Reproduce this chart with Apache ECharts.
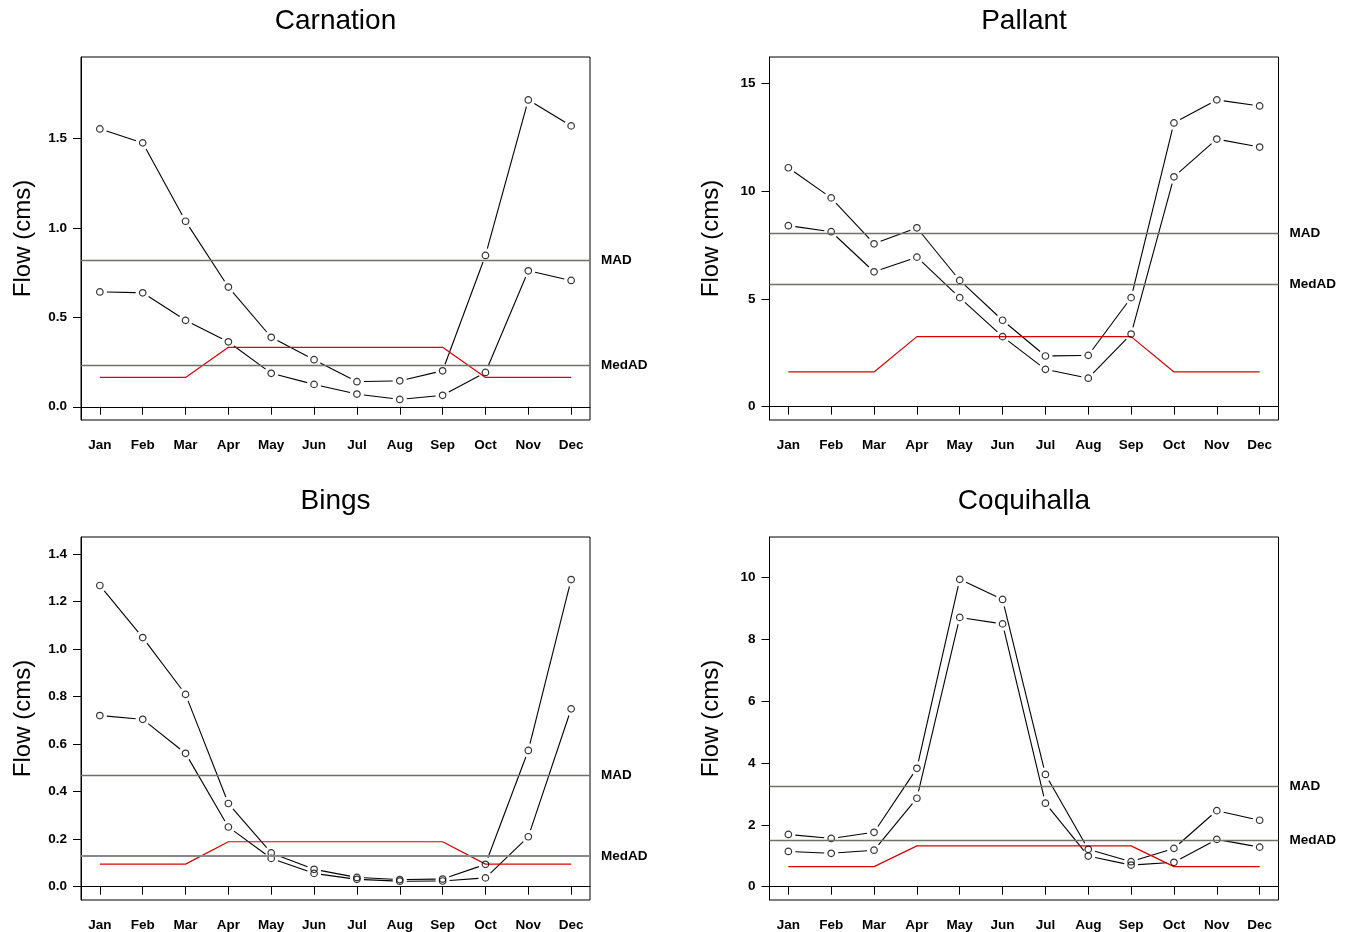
<!DOCTYPE html>
<html><head><meta charset="utf-8">
<script src="https://cdn.jsdelivr.net/npm/echarts@6/dist/echarts.min.js"></script>
<style>html,body{margin:0;padding:0;background:#fff}#c{width:1354px;height:932px}</style>
</head><body><div id="c"></div>
<script>
// ---------- data ----------
const months = ['Jan','Feb','Mar','Apr','May','Jun','Jul','Aug','Sep','Oct','Nov','Dec'];
const stations = ['Carnation','Pallant','Bings','Coquihalla'];
const yAxisTitle = 'Flow (cms)';
const refLabels = ['MAD','MedAD'];

const carnationUpper = [1.553,1.475,1.037,0.669,0.388,0.263,0.140,0.145,0.201,0.846,1.715,1.570];
const carnationLower = [0.642,0.637,0.483,0.363,0.187,0.125,0.071,0.041,0.064,0.192,0.760,0.706];
const carnationThreshold = [0.164,0.164,0.164,0.332,0.332,0.332,0.332,0.332,0.332,0.164,0.164,0.164];
const carnationMAD = 0.825, carnationMedAD = 0.233;
const carnationTicks = [0,0.5,1.0,1.5];
const carnationTickLabels = ['0.0','0.5','1.0','1.5'];

const pallantUpper = [11.09,9.69,7.56,8.30,5.86,4.01,2.35,2.38,5.06,13.17,14.24,13.96];
const pallantLower = [8.40,8.12,6.26,6.94,5.06,3.25,1.73,1.32,3.37,10.67,12.42,12.05];
const pallantThreshold = [1.61,1.61,1.61,3.25,3.25,3.25,3.25,3.25,3.25,1.61,1.61,1.61];
const pallantMAD = 8.07, pallantMedAD = 5.68;
const pallantTicks = [0,5,10,15];
const pallantTickLabels = ['0','5','10','15'];

const bingsUpper = [1.267,1.048,0.809,0.350,0.142,0.073,0.039,0.030,0.032,0.094,0.573,1.292];
const bingsLower = [0.720,0.704,0.561,0.251,0.119,0.056,0.031,0.023,0.024,0.037,0.210,0.748];
const bingsThreshold = [0.095,0.095,0.095,0.189,0.189,0.189,0.189,0.189,0.189,0.095,0.095,0.095];
const bingsMAD = 0.472, bingsMedAD = 0.126;
const bingsTicks = [0,0.2,0.4,0.6,0.8,1.0,1.2,1.4];
const bingsTickLabels = ['0.0','0.2','0.4','0.6','0.8','1.0','1.2','1.4'];

const coquihallaUpper = [1.69,1.56,1.76,3.83,9.94,9.29,3.63,1.21,0.81,1.24,2.46,2.15];
const coquihallaLower = [1.14,1.08,1.18,2.86,8.71,8.50,2.70,0.99,0.70,0.79,1.53,1.28];
const coquihallaThreshold = [0.65,0.65,0.65,1.32,1.32,1.32,1.32,1.32,1.32,0.65,0.65,0.65];
const coquihallaMAD = 3.26, coquihallaMedAD = 1.49;
const coquihallaTicks = [0,2,4,6,8,10];
const coquihallaTickLabels = ['0','2','4','6','8','10'];

// ---------- layout ----------
const FONT = "'Liberation Sans', Arial, Helvetica, sans-serif";
const panels = [
  {title: stations[0], upper: carnationUpper, lower: carnationLower, thr: carnationThreshold, mad: carnationMAD, medad: carnationMedAD, ticks: carnationTicks, tickLabels: carnationTickLabels, ymin: -0.074, ymax: 1.955, left: 81, top: 57},
  {title: stations[1], upper: pallantUpper, lower: pallantLower, thr: pallantThreshold, mad: pallantMAD, medad: pallantMedAD, ticks: pallantTicks, tickLabels: pallantTickLabels, ymin: -0.62, ymax: 16.23, left: 769.5, top: 57},
  {title: stations[2], upper: bingsUpper, lower: bingsLower, thr: bingsThreshold, mad: bingsMAD, medad: bingsMedAD, ticks: bingsTicks, tickLabels: bingsTickLabels, ymin: -0.056, ymax: 1.471, left: 81, top: 537, medadWidth: 2},
  {title: stations[3], upper: coquihallaUpper, lower: coquihallaLower, thr: coquihallaThreshold, mad: coquihallaMAD, medad: coquihallaMedAD, ticks: coquihallaTicks, tickLabels: coquihallaTickLabels, ymin: -0.43, ymax: 11.31, left: 769.5, top: 537}
];
const W = 509, H = 363;
const monthPos = months.map((m, i) => i + 1);

const grids = [], xAxes = [], yAxes = [], series = [], graphics = [];

function segRender(params, api) {
  const p1 = api.coord([api.value(0), api.value(1)]);
  const p2 = api.coord([api.value(2), api.value(3)]);
  const dx = p2[0] - p1[0], dy = p2[1] - p1[1];
  const len = Math.sqrt(dx * dx + dy * dy);
  const gap = 7;
  if (len <= 2 * gap + 1) return null;
  const ux = dx / len, uy = dy / len;
  return {
    type: 'line',
    shape: {x1: p1[0] + ux * gap, y1: p1[1] + uy * gap, x2: p2[0] - ux * gap, y2: p2[1] - uy * gap},
    style: {stroke: '#000', lineWidth: 1.1}
  };
}

const tickFont = {color: '#000', fontSize: 13.5, fontWeight: 'bold', fontFamily: FONT};

panels.forEach((p, k) => {
  grids.push({left: p.left, top: p.top, width: W, height: H, show: true, borderColor: '#000', borderWidth: 1, backgroundColor: 'transparent'});
  xAxes.push({
    type: 'value', gridIndex: k, min: 0.56, max: 12.44,
    axisLine: {show: true, lineStyle: {color: '#000', width: 1}},
    axisTick: {show: true, length: 8, lineStyle: {color: '#000', width: 1}, customValues: monthPos},
    axisLabel: Object.assign({show: true, customValues: monthPos, formatter: v => months[Math.round(v) - 1] || '', margin: 18}, tickFont),
    splitLine: {show: false}
  });
  const labelMap = {};
  p.ticks.forEach((t, i) => labelMap[t.toFixed(4)] = p.tickLabels[i]);
  yAxes.push({
    type: 'value', gridIndex: k, min: p.ymin, max: p.ymax,
    axisLine: {show: true, lineStyle: {color: '#000', width: 1}},
    axisTick: {show: true, length: 8, lineStyle: {color: '#000', width: 1}, customValues: p.ticks},
    axisLabel: Object.assign({show: true, customValues: p.ticks, formatter: v => labelMap[Number(v).toFixed(4)] ?? '', margin: 14, padding: [3, 0, 0, 0]}, tickFont),
    splitLine: {show: false}
  });
  // reference lines + threshold
  series.push({
    type: 'line', xAxisIndex: k, yAxisIndex: k, z: 3,
    data: p.thr.map((v, i) => [monthPos[i], v]),
    showSymbol: false, symbol: 'none',
    lineStyle: {color: '#dd0000', width: 1.2},
    markLine: {
      silent: true, symbol: 'none', animation: false,
      lineStyle: {color: '#707068', type: 'solid', width: 1.3},
      label: Object.assign({show: true, position: 'end', distance: 11, formatter: '{b}'}, tickFont),
      data: [
        {name: refLabels[0], yAxis: p.mad},
        {name: refLabels[1], yAxis: p.medad, lineStyle: {color: p.medadWidth ? '#888888' : '#707068', width: p.medadWidth || 1.3}}
      ]
    }
  });
  [p.upper, p.lower].forEach(arr => {
    const segs = [];
    for (let i = 0; i < arr.length - 1; i++) segs.push([monthPos[i], arr[i], monthPos[i + 1], arr[i + 1]]);
    series.push({
      type: 'custom', xAxisIndex: k, yAxisIndex: k, z: 2,
      renderItem: segRender, data: segs, encode: {x: [0, 2], y: [1, 3]}, clip: false
    });
    series.push({
      type: 'scatter', xAxisIndex: k, yAxisIndex: k, z: 4,
      data: arr.map((v, i) => [monthPos[i], v]),
      symbol: 'circle', symbolSize: 6.5,
      itemStyle: {color: 'rgba(0,0,0,0)', borderColor: '#000', borderWidth: 1.2}
    });
  });
  graphics.push({
    type: 'text', x: p.left + W / 2, y: p.top - 36,
    style: {text: p.title, font: '28px ' + FONT, fill: '#000', textAlign: 'center', textVerticalAlign: 'middle'}
  });
  graphics.push({
    type: 'text', x: p.left - 58, y: p.top + H / 2, rotation: Math.PI / 2,
    style: {text: yAxisTitle, font: '24px ' + FONT, fill: '#000', textAlign: 'center', textVerticalAlign: 'middle'}
  });
});

const chart = echarts.init(document.getElementById('c'), null, {renderer: 'canvas'});
chart.setOption({
  animation: false,
  backgroundColor: '#fff',
  grid: grids, xAxis: xAxes, yAxis: yAxes, series: series, graphic: graphics
});
</script>
</body></html>
